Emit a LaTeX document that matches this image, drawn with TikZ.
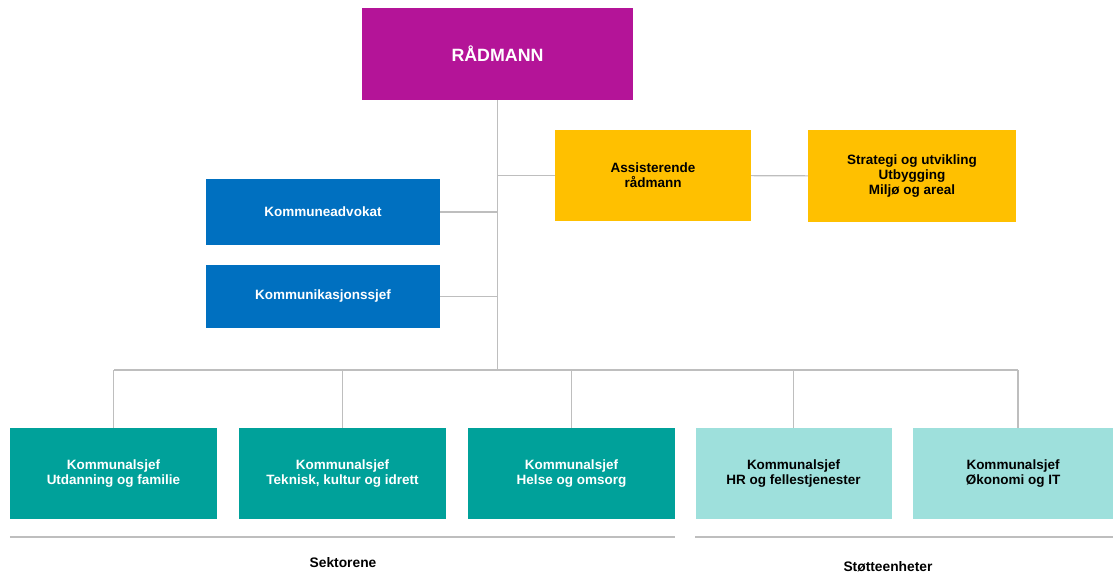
\documentclass[tikz,border=0pt]{standalone}
\usepackage{fontspec}
\setmainfont{Liberation Sans}
\usetikzlibrary{positioning}

\definecolor{radlilla}{RGB}{180,20,152}
\definecolor{stabblaa}{RGB}{0,112,192}
\definecolor{assgul}{RGB}{255,192,0}
\definecolor{sektorgronn}{RGB}{0,161,154}
\definecolor{stottelys}{RGB}{158,224,220}
\definecolor{strek}{RGB}{190,190,190}

\tikzset{
  boks/.style={rectangle, inner sep=0pt, align=center, font=\bfseries\fontsize{13.5}{15.2}\selectfont},
  link/.style={draw=strek, line width=1.1pt},
  regel/.style={draw=strek, line width=1.2pt},
}

\begin{document}
\begin{tikzpicture}[x=1pt, y=-1pt]
    \useasboundingbox (0, 0) rectangle (1114, 574);

    \node [boks, fill=radlilla, text=white, minimum width=271pt, minimum height=92pt,
           font=\bfseries\fontsize{17.8}{20}\selectfont] (rad) at (497.5, 54) {RÅDMANN};

    \node [boks, fill=assgul, minimum width=196pt, minimum height=91pt] (ass) at (653, 175.5) {Assisterende\\rådmann};
    \node [boks, fill=assgul, minimum width=208pt, minimum height=92pt] (strat) at (912, 176) {Strategi og utvikling\\Utbygging\\Miljø og areal};

    \node [boks, fill=stabblaa, text=white, minimum width=234pt, minimum height=66pt] (advokat) at (323, 212) {Kommuneadvokat};
    \node [boks, fill=stabblaa, text=white, minimum width=234pt, minimum height=63pt] (kommsjef) at (323, 296.5) {Kommunikasjonssjef};

    \node [boks, fill=sektorgronn, text=white, minimum width=207pt, minimum height=91pt] (s1) at (113.5, 473.5) {Kommunalsjef\\Utdanning og familie};
    \node [boks, fill=sektorgronn, text=white, minimum width=207pt, minimum height=91pt] (s2) at (342.5, 473.5) {Kommunalsjef\\Teknisk, kultur og idrett};
    \node [boks, fill=sektorgronn, text=white, minimum width=207pt, minimum height=91pt] (s3) at (571.5, 473.5) {Kommunalsjef\\Helse og omsorg};
    \node [boks, fill=stottelys, minimum width=196pt, minimum height=91pt] (s4) at (793.5, 473.5) {Kommunalsjef\\HR og fellestjenester};
    \node [boks, fill=stottelys, minimum width=200pt, minimum height=91pt] (s5) at (1013, 473.5) {Kommunalsjef\\Økonomi og IT};

    \coordinate (busL) at (114, 370);
    \coordinate (busR) at (1018, 370);

    % stamme og sidegreiner
    \draw [link] (rad.south) -- (rad.south |- busL);
    \draw [link] (busL) -- (busR);
    \draw [link] (ass.west) -- (ass.west -| rad.south);
    \draw [link] (ass) -- (strat);
    \draw [link] (advokat.east) -- (advokat.east -| rad.south);
    \draw [link] (kommsjef.east) -- (kommsjef.east -| rad.south);
    \foreach \n in {s1, s2, s3, s4}
        \draw [link] (\n.north) -- (\n.north |- busL);
    \draw [link] (s5.north -| busR) -- (busR);

    % grupper
    \draw [regel] (s1.south west |- 0, 537) coordinate (sekA) -- (s3.south east |- 0, 537) coordinate (sekB);
    \draw [regel] (s4.south west |- 0, 537) coordinate (stoA) -- (s5.south east |- 0, 537) coordinate (stoB);
    \node [font=\bfseries\fontsize{13.8}{16}\selectfont] (sektorene) at (343, 563) {Sektorene};
    \node [font=\bfseries\fontsize{13.8}{16}\selectfont] (stotte) at (888, 567) {Støtteenheter};
\end{tikzpicture}
\end{document}
